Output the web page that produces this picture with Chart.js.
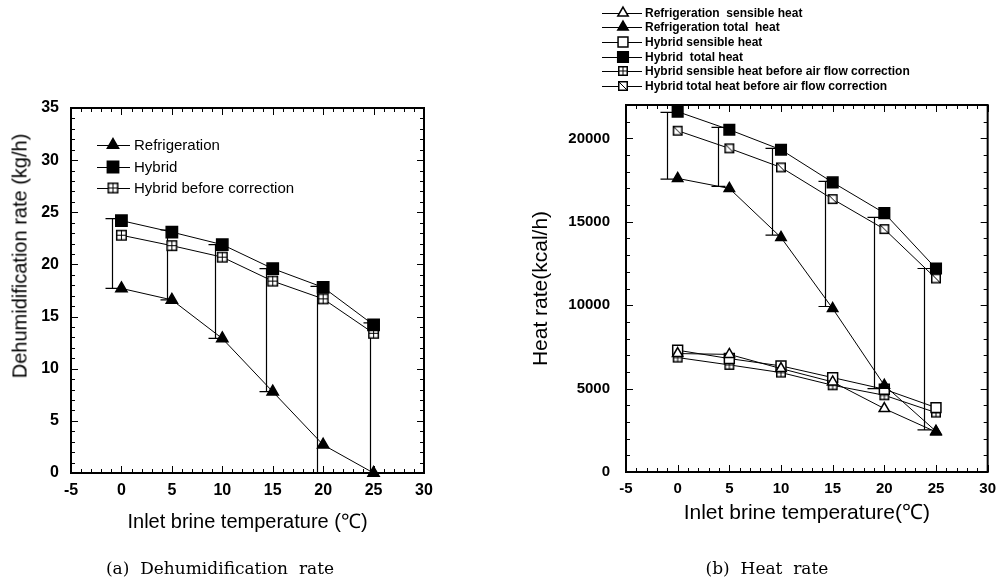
<!DOCTYPE html>
<html>
<head>
<meta charset="utf-8">
<script src="https://cdn.jsdelivr.net/npm/chart.js@4.4.1/dist/chart.umd.min.js"></script>
<style>
body { margin: 0; background: #fff; width: 1004px; height: 584px; position: relative; overflow: hidden; font-family: "Liberation Sans", Arial, sans-serif; }
#leftBox { position: absolute; left: 0; top: 0; width: 480px; height: 584px; }
#rightBox { position: absolute; left: 480px; top: 0; width: 524px; height: 584px; }
.caption { position: absolute; top: 568px; font-family: "DejaVu Serif", serif; font-size: 17px; white-space: pre; transform: translate(-50%, -50%); color: #000; }
#leftYTitle { position: absolute; left: 20px; top: 256px; font-size: 20px; white-space: nowrap; transform: translate(-50%, -50%) rotate(-90deg); color: #000; }
</style>
</head>
<body>
<div id="leftBox"><canvas id="dehumChart"></canvas></div>
<div id="rightBox"><canvas id="heatChart"></canvas></div>
<div id="leftYTitle">Dehumidification rate (kg/h)</div>
<div class="caption" style="left:220px">(a)  Dehumidification  rate</div>
<div class="caption" style="left:767px">(b)  Heat  rate</div>
<script>
// inlet brine temperature (°C)
const temps = [0, 5, 10, 15, 20, 25];

// (a) dehumidification rate, kg/h
const dehumRefrig = [17.7, 16.6, 12.9, 7.8, 2.7, 0];
const dehumHybrid = [24.2, 23.1, 21.9, 19.6, 17.8, 14.2];
const dehumHybridBefore = [22.8, 21.8, 20.7, 18.4, 16.7, 13.4];
// vertical connector lines
const dehumBarX = [-0.9, 4.5, 9.3, 14.3, 19.4, 24.6];
const dehumBarLow = [17.7, 16.6, 12.9, 7.8, 0, 0];
const dehumBarHigh = [24.4, 23.3, 21.9, 19.6, 17.9, 14.4];

// (b) heat rate, kcal/h
const heatRefrigSens = [7100, 7050, 6200, 5400, 3800, 2400];
const heatRefrigTotal = [17600, 17000, 14060, 9800, 5200, 2440];
const heatHybridSens = [7300, 6800, 6360, 5660, 4960, 3860];
const heatHybridTotal = [21600, 20520, 19320, 17360, 15520, 12200];
const heatHybridSensBefore = [6860, 6420, 5960, 5200, 4600, 3560];
const heatHybridTotalBefore = [20460, 19400, 18260, 16360, 14560, 11600];
const heatBarX = [-1.06, 3.95, 9.13, 14.24, 19.03, 23.8];
const heatBarLow = [17560, 17120, 14200, 9920, 5000, 2520];
const heatBarHigh = [21560, 20660, 19400, 17420, 15260, 12200];

const xTicks = [-5, 0, 5, 10, 15, 20, 25, 30];

function pts(arr) {
    return temps.map((t, i) => ({ x: t, y: arr[i] }));
}

// square markers with a cross or a diagonal inside
function boxMarker(size, kind) {
    const c = document.createElement('canvas');
    c.width = c.height = size + 2;
    const g = c.getContext('2d');
    g.fillStyle = '#fff';
    g.fillRect(1, 1, size, size);
    g.strokeStyle = '#000';
    g.lineWidth = 1.5;
    g.strokeRect(1.75, 1.75, size - 1.5, size - 1.5);
    g.lineWidth = 1;
    g.beginPath();
    if (kind === 'plus') {
        g.moveTo(1 + size / 2, 1); g.lineTo(1 + size / 2, 1 + size);
        g.moveTo(1, 1 + size / 2); g.lineTo(1 + size, 1 + size / 2);
    } else {
        g.moveTo(2, 2); g.lineTo(size, size);
    }
    g.stroke();
    return c;
}

function series(label, data, style, fill, radius, order) {
    return {
        label: label,
        data: pts(data),
        order: order,
        borderColor: '#000',
        borderWidth: 1,
        tension: 0,
        pointStyle: style,
        pointRadius: radius,
        pointBackgroundColor: fill,
        pointBorderColor: '#000',
        pointBorderWidth: 1.5,
        clip: false
    };
}

function isMajor(v, step) {
    return Math.abs(v / step - Math.round(v / step)) < 1e-6;
}

// frame, inward ticks on all four sides, and the vertical connector lines
const paperBox = {
    id: 'paperBox',
    beforeDatasetsDraw(chart, args, opts) {
        const { ctx, chartArea: a, scales: { x, y } } = chart;
        ctx.save();
        ctx.strokeStyle = '#000';
        ctx.lineWidth = 1;
        ctx.beginPath();
        for (let v = x.min; v <= x.max + 1e-9; v += opts.xMinor) {
            const px = Math.round(x.getPixelForValue(v)) + 0.5;
            const len = isMajor(v, opts.xMajor) ? 7 : 4;
            ctx.moveTo(px, a.bottom); ctx.lineTo(px, a.bottom - len);
            ctx.moveTo(px, a.top); ctx.lineTo(px, a.top + len);
        }
        for (let v = y.min; v <= y.max + 1e-9; v += opts.yMinor) {
            const py = Math.round(y.getPixelForValue(v)) + 0.5;
            const len = isMajor(v, opts.yMajor) ? 7 : 4;
            ctx.moveTo(a.left, py); ctx.lineTo(a.left + len, py);
            ctx.moveTo(a.right, py); ctx.lineTo(a.right - len, py);
        }
        ctx.stroke();

        ctx.lineWidth = 2;
        ctx.strokeRect(a.left, a.top, a.right - a.left, a.bottom - a.top);

        ctx.lineWidth = 1.2;
        ctx.beginPath();
        opts.barX.forEach((bx, i) => {
            const px = Math.round(x.getPixelForValue(bx)) + 0.5;
            const lo = y.getPixelForValue(opts.barLow[i]);
            const hi = y.getPixelForValue(opts.barHigh[i]);
            ctx.moveTo(px, lo); ctx.lineTo(px, hi);
            ctx.moveTo(px - 7, hi); ctx.lineTo(px + 7, hi);
            ctx.moveTo(px - 7, lo); ctx.lineTo(px + 7, lo);
        });
        ctx.stroke();
        ctx.restore();
    }
};

// legend rows drawn inside / above the plot
const paperKey = {
    id: 'paperKey',
    afterDatasetsDraw(chart, args, opts) {
        const ctx = chart.ctx;
        ctx.save();
        ctx.font = opts.font;
        ctx.textBaseline = 'middle';
        opts.rows.forEach((yy, i) => {
            const ds = chart.data.datasets[i];
            ctx.strokeStyle = '#000';
            ctx.lineWidth = 1;
            ctx.beginPath();
            ctx.moveTo(opts.x0, yy + 0.5); ctx.lineTo(opts.x1, yy + 0.5);
            ctx.stroke();
            ctx.fillStyle = ds.pointBackgroundColor;
            ctx.lineWidth = ds.pointBorderWidth;
            Chart.helpers.drawPoint(ctx, {
                pointStyle: ds.pointStyle,
                radius: ds.pointRadius,
                borderWidth: ds.pointBorderWidth,
                rotation: 0
            }, opts.xm, yy);
            ctx.fillStyle = '#000';
            ctx.fillText(ds.label, opts.xt, yy + 1);
        });
        ctx.restore();
    }
};

function axisX(title, titleSize, titlePad, height, tickSize) {
    return {
        type: 'linear',
        min: -5,
        max: 30,
        afterBuildTicks: s => { s.ticks = xTicks.map(v => ({ value: v })); },
        afterFit: s => { s.height = height; },
        grid: { display: false, drawTicks: false },
        border: { display: false },
        ticks: { color: '#000', font: { size: tickSize, weight: 'bold' }, padding: 8, maxRotation: 0 },
        title: { display: true, text: title, color: '#000', font: { size: titleSize }, padding: { top: 0, bottom: titlePad } }
    };
}

Chart.defaults.font.family = '"Liberation Sans", Arial, sans-serif';

const plusBox = boxMarker(10, 'plus');
const slashBox = boxMarker(10, 'slash');
const plusBoxL = boxMarker(11, 'plus');

new Chart(document.getElementById('dehumChart'), {
    type: 'line',
    data: {
        datasets: [
            series('Refrigeration', dehumRefrig, 'triangle', '#000', 6.5, 0),
            series('Hybrid', dehumHybrid, 'rect', '#000', 8, 1),
            series('Hybrid before correction', dehumHybridBefore, plusBoxL, '#fff', 6, 2)
        ]
    },
    options: {
        responsive: true,
        maintainAspectRatio: false,
        animation: false,
        layout: { padding: { left: 0, top: 108, right: 56, bottom: 41 } },
        scales: {
            x: axisX('Inlet brine temperature (\u2103)', 20, 9, 70, 16),
            y: {
                min: 0,
                max: 35,
                afterFit: s => { s.width = 71; },
                grid: { display: false, drawTicks: false },
                border: { display: false },
                ticks: { stepSize: 5, color: '#000', font: { size: 16, weight: 'bold' }, padding: 12 }
            }
        },
        plugins: {
            legend: { display: false },
            tooltip: { enabled: false },
            paperBox: { xMinor: 1, xMajor: 5, yMinor: 1, yMajor: 5, barX: dehumBarX, barLow: dehumBarLow, barHigh: dehumBarHigh },
            paperKey: { font: '15px "Liberation Sans", Arial, sans-serif', rows: [145, 167, 188], x0: 97, x1: 130, xm: 113, xt: 134 }
        }
    },
    plugins: [paperBox, paperKey]
});

new Chart(document.getElementById('heatChart'), {
    type: 'line',
    data: {
        datasets: [
            series('Refrigeration  sensible heat', heatRefrigSens, 'triangle', '#fff', 6, 3),
            series('Refrigeration total  heat', heatRefrigTotal, 'triangle', '#000', 6, 0),
            series('Hybrid sensible heat', heatHybridSens, 'rect', '#fff', 7, 4),
            series('Hybrid  total heat', heatHybridTotal, 'rect', '#000', 7.5, 1),
            series('Hybrid sensible heat before air flow correction', heatHybridSensBefore, plusBox, '#fff', 6, 5),
            series('Hybrid total heat before air flow correction', heatHybridTotalBefore, slashBox, '#fff', 6, 2)
        ]
    },
    options: {
        responsive: true,
        maintainAspectRatio: false,
        animation: false,
        layout: { padding: { left: 0, top: 105, right: 12, bottom: 52 } },
        scales: {
            x: axisX('Inlet brine temperature(\u2103)', 21, 6, 60, 15),
            y: {
                min: 0,
                max: 22000,
                afterBuildTicks: s => { s.ticks = [0, 5000, 10000, 15000, 20000].map(v => ({ value: v })); },
                afterFit: s => { s.width = 146; },
                grid: { display: false, drawTicks: false },
                border: { display: false },
                ticks: { color: '#000', font: { size: 15, weight: 'bold' }, padding: 16, callback: v => String(v) },
                title: { display: true, text: 'Heat rate(kcal/h)', color: '#000', font: { size: 21 }, padding: { top: 49, bottom: 0 } }
            }
        },
        plugins: {
            legend: { display: false },
            tooltip: { enabled: false },
            paperBox: { xMinor: 1, xMajor: 5, yMinor: 1000, yMajor: 5000, barX: heatBarX, barLow: heatBarLow, barHigh: heatBarHigh },
            paperKey: { font: 'bold 12px "Liberation Sans", Arial, sans-serif', rows: [13, 27, 42, 57, 71, 86], x0: 122, x1: 162, xm: 143, xt: 165 }
        }
    },
    plugins: [paperBox, paperKey]
});
</script>
</body>
</html>
